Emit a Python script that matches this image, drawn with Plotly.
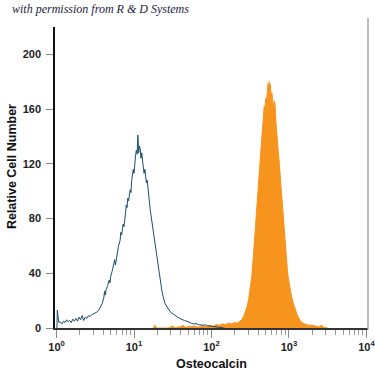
import plotly.graph_objects as go

# ---- data (x given as log10 of fluorescence intensity) ----
control_log = [0.005, 0.01, 0.02, 0.03, 0.045, 0.07, 0.09, 0.11, 0.13, 0.15, 0.17, 0.19, 0.21, 0.23, 0.25, 0.27,
               0.29, 0.31, 0.33, 0.35, 0.37, 0.39, 0.41, 0.43, 0.45, 0.47, 0.49, 0.51, 0.53, 0.55, 0.57, 0.59,
               0.61, 0.62, 0.63, 0.64, 0.66, 0.68, 0.69, 0.70, 0.72, 0.74, 0.75, 0.76, 0.78, 0.80, 0.82, 0.83,
               0.84, 0.86, 0.87, 0.88, 0.89, 0.90, 0.91, 0.92, 0.93, 0.95, 0.96, 0.97, 0.98, 0.99, 1.00, 1.01,
               1.02, 1.03, 1.04, 1.05, 1.06, 1.07, 1.08, 1.09, 1.10, 1.11, 1.12, 1.13, 1.14, 1.15, 1.16, 1.17,
               1.18, 1.19, 1.20, 1.21, 1.22, 1.24, 1.25, 1.26, 1.27, 1.28, 1.30, 1.31, 1.32, 1.34, 1.35, 1.36,
               1.38, 1.39, 1.40, 1.42, 1.44, 1.46, 1.48, 1.50, 1.53, 1.56, 1.59, 1.62, 1.65, 1.68, 1.71, 1.74,
               1.77, 1.80, 1.83, 1.86, 1.89, 1.92, 1.95, 1.98, 2.01, 2.04, 2.07, 2.10, 2.13, 2.16]
control_counts = [0, 13, 8, 4, 4.5, 3, 5, 4, 6, 4.5, 5.5, 4, 6.5, 5, 7, 5,
                  8, 6, 9, 5.5, 8, 7, 9, 8.5, 9.5, 10, 11, 11.5, 12, 13.5, 16, 18,
                  22, 27, 24, 28, 31, 35, 33, 38, 42, 47, 50, 46, 55, 60, 64, 70,
                  68, 76, 74, 82, 84, 90, 88, 95, 93, 101, 99, 108, 112, 116, 113, 122,
                  126, 130, 127, 141, 128, 133, 131, 124, 128, 122, 119, 113, 116, 110, 106, 108,
                  101, 95, 90, 86, 82, 74, 70, 66, 62, 57, 48, 45, 40, 34, 31, 27,
                  22, 20, 18, 16, 14, 13, 11, 10.5, 9, 8, 7, 6, 5.5, 5, 4, 3.5,
                  3, 3.2, 2.5, 2.2, 2, 2.3, 1.6, 1.5, 1.2, 1, 0.8, 0.6, 0.3, 0]

stained_log = [1.25, 1.27, 1.29, 1.45, 1.50, 1.53, 1.60, 1.63, 1.66, 1.72, 1.78, 1.82, 1.88, 1.94, 1.98, 2.02,
               2.06, 2.10, 2.14, 2.18, 2.22, 2.26, 2.30, 2.33, 2.36, 2.39, 2.42, 2.44, 2.46, 2.48, 2.50, 2.52,
               2.54, 2.56, 2.58, 2.60, 2.62, 2.64, 2.66, 2.67, 2.68, 2.69, 2.70, 2.71, 2.72, 2.73, 2.74, 2.75,
               2.76, 2.77, 2.78, 2.79, 2.80, 2.81, 2.82, 2.83, 2.84, 2.85, 2.86, 2.87, 2.88, 2.89, 2.90, 2.91,
               2.92, 2.93, 2.94, 2.95, 2.96, 2.97, 2.98, 2.99, 3.00, 3.01, 3.03, 3.05, 3.07, 3.09, 3.11, 3.13,
               3.15, 3.18, 3.21, 3.25, 3.30, 3.34, 3.38, 3.42, 3.45, 3.50]
stained_counts = [0, 2, 0, 0, 1.5, 0, 1, 2, 0.5, 1, 1.5, 0.5, 1.5, 1, 2, 1,
                  2.5, 2, 3, 2.5, 3.5, 3, 4, 3.5, 5, 6, 9, 12, 16, 21, 28, 38,
                  52, 66, 84, 100, 116, 132, 150, 158, 162, 160, 168, 166, 172, 179, 176, 180,
                  177, 170, 172, 163, 160, 166, 164, 152, 142, 138, 130, 124, 116, 108, 99, 92,
                  84, 76, 68, 60, 54, 48, 42, 37, 33, 30, 24, 19, 15, 12, 9, 7,
                  5, 3.5, 3, 2, 2, 1.5, 1, 2, 0.5, 0]

x_tick_vals = [1, 10, 100, 1000, 10000]
x_tick_text = ["10<sup>0</sup>", "10<sup>1</sup>", "10<sup>2</sup>", "10<sup>3</sup>", "10<sup>4</sup>"]
y_tick_vals = [0, 40, 80, 120, 160, 200]
x_title = "Osteocalcin"
y_title = "Relative Cell Number"
credit = "with permission from R &amp; D Systems"

minor_vals = [m * 10 ** d for d in range(4) for m in range(2, 10)]

fig = go.Figure()
fig.add_trace(go.Scatter(
    x=[10 ** v for v in stained_log], y=stained_counts, mode="lines",
    fill="tozeroy", fillcolor="#F7941D", line=dict(color="#F7941D", width=1),
    hoverinfo="skip", showlegend=False))
fig.add_trace(go.Scatter(
    x=[10 ** v for v in control_log], y=control_counts, mode="lines",
    line=dict(color="#1C4F6E", width=1),
    hoverinfo="skip", showlegend=False))

tick_font = dict(family="Liberation Sans, Arial, sans-serif", size=11, color="#222222", weight="bold")
title_font = dict(family="Liberation Sans, Arial, sans-serif", size=12.5, color="#111111")

fig.update_layout(
    width=375, height=375,
    margin=dict(l=55, r=7, t=27, b=47, autoexpand=False),
    paper_bgcolor="white", plot_bgcolor="white",
    xaxis=dict(type="log", range=[-0.02, 4.02], tickmode="array", tickvals=x_tick_vals, ticktext=x_tick_text,
               ticks="outside", ticklen=8, tickcolor="#888888", tickwidth=1,
               showline=True, linecolor="#333333", linewidth=1.5, showgrid=False, zeroline=False,
               tickfont=tick_font, automargin=False, ticklabeloverflow="allow",
               minor=dict(tickmode="array", tickvals=minor_vals, ticks="outside", ticklen=5,
                          tickcolor="#999999", tickwidth=1, showgrid=False)),
    yaxis=dict(range=[0, 220], tickmode="array", tickvals=y_tick_vals,
               ticks="outside", ticklen=7, tickcolor="#888888", tickwidth=1,
               showline=True, linecolor="#111111", linewidth=1.5, showgrid=False, zeroline=False,
               tickfont=tick_font, automargin=False, ticklabelstandoff=3),
    shapes=[dict(type="line", xref="paper", yref="paper", x0=1, x1=1, y0=-0.005, y1=1.03,
                 line=dict(color="#AAAAAA", width=1.5))],
    annotations=[
        dict(text="<i>" + credit + "</i>", xref="paper", yref="paper",
             x=-0.144, y=1.03, xanchor="left", yanchor="bottom", showarrow=False,
             font=dict(family="Liberation Serif, serif", size=12, color="#1a1a40")),
        dict(text="<b>" + x_title + "</b>", xref="paper", yref="paper",
             x=0.5, y=-0.12, xanchor="center", yanchor="middle", showarrow=False, font=title_font),
        dict(text="<b>" + y_title + "</b>", xref="paper", yref="paper", textangle=-90,
             x=-0.137, y=0.535, xanchor="center", yanchor="middle", showarrow=False, font=title_font),
    ],
)

fig.write_html("out.html", config={"displayModeBar": False},
               post_script="document.body.style.margin='0';document.body.style.overflow='hidden';")
